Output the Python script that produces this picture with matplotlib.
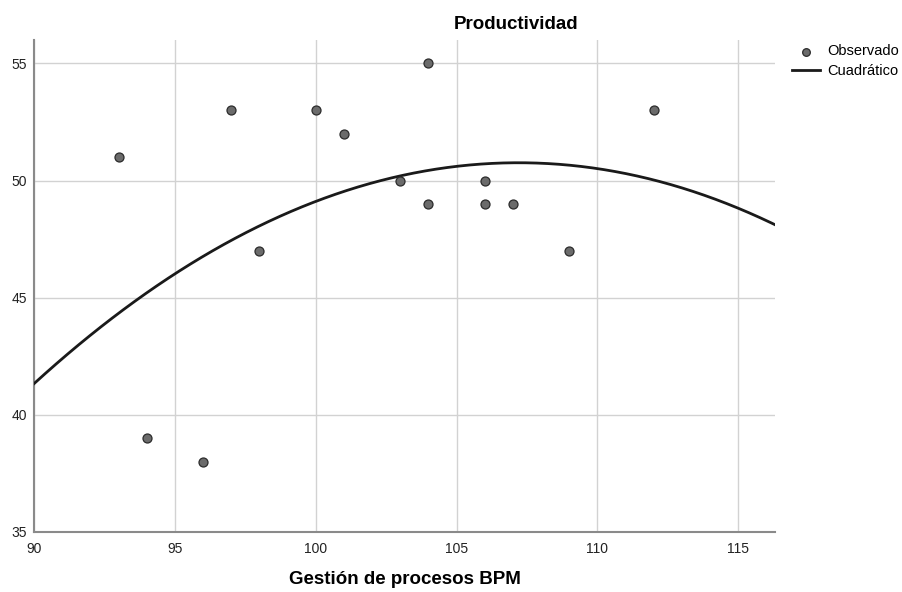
import numpy as np
import matplotlib.pyplot as plt

plt.rcParams['font.family'] = ['Liberation Sans', 'DejaVu Sans']

# observed data
gestion = [93, 94, 96, 97, 98, 100, 101, 103, 104, 104, 106, 106, 107, 109, 112]
productividad = [51, 39, 38, 53, 47, 53, 52, 50, 55, 49, 50, 49, 49, 47, 53]

# quadratic model coefficients (b0 + b1*x + b2*x^2)
b0, b1, b2 = -315.79, 6.839, -0.0319

x_ticks = [90, 95, 100, 105, 110, 115]
y_ticks = [35, 40, 45, 50, 55]

fig = plt.figure(figsize=(9.02, 5.92), dpi=100)
ax = fig.add_axes([0.0377, 0.1014, 0.8215, 0.831])

xs = np.linspace(90, 116.3, 200)
ax.plot(xs, b0 + b1 * xs + b2 * xs ** 2, color='#1a1a1a', lw=2.0,
        label='Cuadrático', zorder=3)
ax.scatter(gestion, productividad, s=42, color='#6b6b6b', edgecolor='#2b2b2b',
           linewidth=0.9, label='Observado', zorder=4)

ax.set_xlim(90, 116.3)
ax.set_ylim(35, 56)
ax.set_xticks(x_ticks)
ax.set_yticks(y_ticks)
ax.grid(True, color='#d2d2d2', lw=1.0)
ax.set_axisbelow(True)
ax.tick_params(length=0, labelsize=10, colors='#222222')
ax.tick_params(axis='x', pad=7)
ax.tick_params(axis='y', pad=5)
for s in ['top', 'right']:
    ax.spines[s].set_visible(False)
for s in ['left', 'bottom']:
    ax.spines[s].set_color('#8a8a8a')
    ax.spines[s].set_linewidth(1.5)

ax.set_xlabel('Gestión de procesos BPM', fontsize=13.5, fontweight='bold', labelpad=11)
fig.text(0.572, 0.958, 'Productividad', ha='center', va='center',
         fontsize=13.5, fontweight='bold')

h, l = ax.get_legend_handles_labels()
fig.legend(h[::-1], l[::-1], loc='upper left', bbox_to_anchor=(0.878, 0.925),
           frameon=False, fontsize=10.5, handlelength=1.9, handletextpad=0.5,
           labelspacing=0.4, borderaxespad=0, borderpad=0, markerscale=0.85)

fig.savefig('out.png', dpi=100)
